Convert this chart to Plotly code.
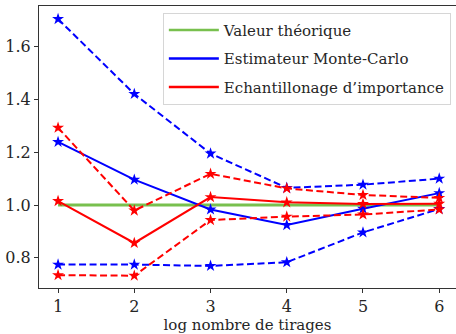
import plotly.graph_objects as go

x_log = [1, 2, 3, 4, 5, 6]
theory = [1.0, 1.0, 1.0, 1.0, 1.0, 1.0]
mc_mean = [1.239, 1.096, 0.983, 0.924, 0.986, 1.045]
mc_upper = [1.705, 1.421, 1.195, 1.065, 1.077, 1.100]
mc_lower = [0.774, 0.774, 0.769, 0.783, 0.896, 0.985]
is_mean = [1.015, 0.856, 1.030, 1.010, 1.004, 1.005]
is_upper = [1.293, 0.979, 1.118, 1.063, 1.038, 1.027]
is_lower = [0.734, 0.732, 0.943, 0.956, 0.964, 0.983]
x_ticks = [1, 2, 3, 4, 5, 6]
y_ticks = [0.8, 1.0, 1.2, 1.4, 1.6]
legend_names = ["Valeur théorique", "Estimateur Monte-Carlo", "Echantillonage d’importance"]

GREEN = "#78c04e"
BLUE = "#0000ff"
RED = "#ff0000"
FONT = "DejaVu Serif, Liberation Serif, serif"

fig = go.Figure()

star = dict(symbol="star", size=9, line=dict(width=0))

fig.add_trace(go.Scatter(x=x_log, y=theory, mode="lines",
                         line=dict(color=GREEN, width=3), showlegend=False))
for ys, col, dash in [
    (mc_upper, BLUE, "7px,3.5px"), (mc_lower, BLUE, "7px,3.5px"), (mc_mean, BLUE, "solid"),
    (is_upper, RED, "7px,3.5px"), (is_lower, RED, "7px,3.5px"), (is_mean, RED, "solid"),
]:
    fig.add_trace(go.Scatter(x=x_log, y=ys, mode="lines+markers",
                             line=dict(color=col, width=2, dash=dash),
                             marker=dict(color=col, **star), showlegend=False))

for name, col in zip(legend_names, [GREEN, BLUE, RED]):
    fig.add_trace(go.Scatter(x=[None], y=[None], mode="lines", name=name,
                             legendgroup=name, line=dict(color=col, width=2.5)))

fig.update_layout(
    width=456, height=334,
    margin=dict(l=39, r=0, t=6, b=46),
    paper_bgcolor="white", plot_bgcolor="white",
    font=dict(family=FONT, size=16, color="#262626"),
    showlegend=True,
    legend=dict(x=0.297, y=0.976, xanchor="left", yanchor="top",
                bgcolor="rgba(255,255,255,0.85)", bordercolor="#d6d6d6", borderwidth=1,
                font=dict(family=FONT, size=15, color="#262626"),
                tracegroupgap=6, itemwidth=50),
    xaxis=dict(range=[0.75, 6.22], tickvals=x_ticks, ticktext=[str(v) for v in x_ticks],
               showgrid=False, zeroline=False, showline=True, linecolor="#333333",
               linewidth=1, mirror=True, ticks="outside", ticklen=4, tickcolor="#333333",
               title=dict(text="log nombre de tirages", standoff=2,
                          font=dict(family=FONT, size=15, color="#262626"))),
    yaxis=dict(range=[0.6853, 1.7545], tickvals=y_ticks,
               ticktext=[f"{v:.1f}" for v in y_ticks],
               showgrid=False, zeroline=False, showline=True, linecolor="#333333",
               linewidth=1, ticks="outside", ticklen=4, tickcolor="#333333"),
)

fig.write_html("out.html", config={"displayModeBar": False},
               post_script="document.body.style.margin='0';")
